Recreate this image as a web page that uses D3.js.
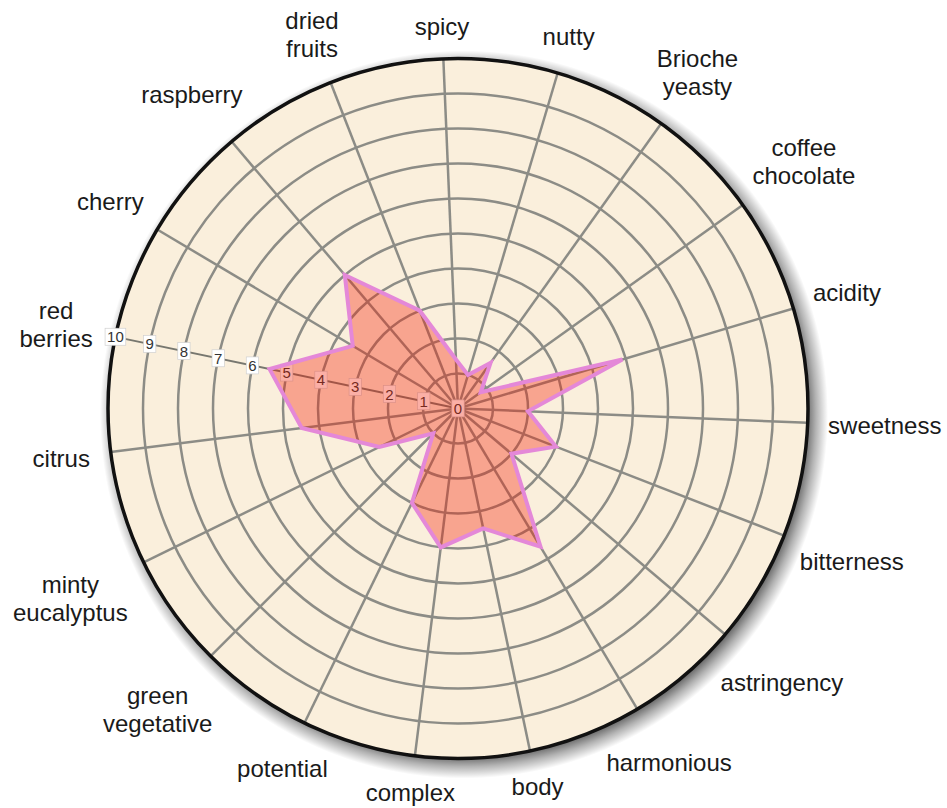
<!DOCTYPE html>
<html lang="en">
	<head>
		<meta charset="utf-8">
		<title>D3: Flavour radar</title>
		<script type="text/javascript" src="https://cdn.jsdelivr.net/npm/d3@7"></script>
		<style type="text/css">
			body { margin: 0; background: #fff; }
			text { font-family: "Liberation Sans", Arial, sans-serif; }
		</style>
	</head>
	<body>
		<script type="text/javascript">

			//Width and height
			var w = 947;
			var h = 808;
			var cx = 458;
			var cy = 408.5;
			var radius = 350;

			//Categories, clockwise from the top ("\n" splits a label on two lines)
			var categories = ["spicy", "nutty", "Brioche\nyeasty", "coffee\nchocolate", "acidity",
							  "sweetness", "bitterness", "astringency", "harmonious", "body",
							  "complex", "potential", "green\nvegetative", "minty\neucalyptus", "citrus",
							  "red\nberries", "cherry", "raspberry", "dried\nfruits"];

			//Score for each category
			var values = [1.4, 1, 1.6, 0.8, 4.9,
						  2, 3, 2, 4.6, 3.5,
						  4, 3, 1, 2.5, 4.5,
						  5.5, 3.5, 5, 3];

			//Ring labels, drawn along the "red berries" spoke
			var ringTicks = [0, 1, 2, 3, 4, 5, 6, 7, 8, 9, 10];
			var tickAxis = "red\nberries";

			var n = categories.length;
			var startAngle = -2.4 * Math.PI / 180;		//the chart is turned slightly anticlockwise

			var rScale = d3.scaleLinear()
							.domain([0, 10])
							.range([0, radius]);

			var aScale = d3.scaleLinear()
							.domain([0, n])
							.range([startAngle, startAngle + 2 * Math.PI]);

			var angleOf = function(d) {
				return aScale(categories.indexOf(d));
			};

			//Create SVG element
			var svg = d3.select("body")
						.append("svg")
						.attr("width", w)
						.attr("height", h);

			//Soft shadow made with a radial gradient (fades out at the rim)
			var shadowR = radius + 14;
			var grad = svg.append("defs")
						.append("radialGradient")
						.attr("id", "shadowGrad");
			grad.append("stop").attr("offset", (radius - 8) / shadowR).attr("stop-color", "#000").attr("stop-opacity", 0.6);
			grad.append("stop").attr("offset", (radius + 2) / shadowR).attr("stop-color", "#000").attr("stop-opacity", 0.3);
			grad.append("stop").attr("offset", 1).attr("stop-color", "#000").attr("stop-opacity", 0);

			var g = svg.append("g")
						.attr("transform", "translate(" + cx + "," + cy + ")");

			g.append("circle")
				.attr("cx", 6)
				.attr("cy", 6)
				.attr("r", shadowR)
				.attr("fill", "url(#shadowGrad)");

			//Plot background
			g.append("circle")
				.attr("r", rScale(10))
				.attr("fill", "#faefdc");

			//Rings
			g.selectAll("circle.ring")
				.data(ringTicks.filter(function(d) { return d > 0 && d < 10; }))
				.enter()
				.append("circle")
				.attr("class", "ring")
				.attr("r", function(d) { return rScale(d); })
				.attr("fill", "none")
				.attr("stroke", "#8c8c86")
				.attr("stroke-width", 2.5);

			//Spokes
			g.selectAll("line.spoke")
				.data(categories)
				.enter()
				.append("line")
				.attr("class", "spoke")
				.attr("x1", 0)
				.attr("y1", 0)
				.attr("x2", function(d) { return rScale(10) * Math.sin(angleOf(d)); })
				.attr("y2", function(d) { return -rScale(10) * Math.cos(angleOf(d)); })
				.attr("stroke", function(d) { return d == tickAxis ? "#77776f" : "#8c8c86"; })
				.attr("stroke-width", function(d) { return d == tickAxis ? 2 : 2.5; });

			//Outer border
			g.append("circle")
				.attr("r", rScale(10))
				.attr("fill", "none")
				.attr("stroke", "#111")
				.attr("stroke-width", 3.5);

			//Ring value labels
			var ta = angleOf(tickAxis);
			var tickG = g.selectAll("g.tick")
						.data(ringTicks)
						.enter()
						.append("g")
						.attr("class", "tick")
						.attr("transform", function(d) {
							return "translate(" + (rScale(d) * Math.sin(ta)) + "," + (-rScale(d) * Math.cos(ta)) + ")";
						});

			tickG.append("rect")
				.attr("fill", "#fff")
				.attr("stroke", "#d0d0d0")
				.attr("stroke-width", 0.7);

			tickG.append("text")
				.text(function(d) { return d; })
				.attr("text-anchor", "middle")
				.attr("dy", "0.36em")
				.attr("font-size", "15px")
				.attr("fill", "#333");

			tickG.each(function() {
				var bb = d3.select(this).select("text").node().getBBox();
				d3.select(this).select("rect")
					.attr("x", bb.x - 2)
					.attr("y", bb.y)
					.attr("width", bb.width + 4)
					.attr("height", bb.height);
			});

			//Series area
			var radial = d3.lineRadial()
							.angle(function(d, i) { return aScale(i); })
							.radius(function(d) { return rScale(d); })
							.curve(d3.curveLinearClosed);

			g.append("path")
				.datum(values)
				.attr("d", radial)
				.attr("fill", "#f41a00")
				.attr("fill-opacity", 0.35)
				.attr("stroke", "none");

			g.append("path")
				.datum(values)
				.attr("d", radial)
				.attr("fill", "none")
				.attr("stroke", "#e488d8")
				.attr("stroke-width", 4)
				.attr("stroke-linejoin", "miter");

			//Category labels, centred on each spoke just outside the circle
			var labels = g.selectAll("text.cat")
						.data(categories)
						.enter()
						.append("text")
						.attr("class", "cat")
						.attr("text-anchor", "middle")
						.attr("font-size", "24px")
						.attr("fill", "#1a1a1a");

			labels.each(function(d) {
				var t = d3.select(this);
				d.split("\n").forEach(function(line, i) {
					t.append("tspan")
						.attr("x", 0)
						.attr("y", i * 28)
						.text(line);
				});
				var bb = this.getBBox();
				var a = angleOf(d);
				var lines = d.split("\n").length;
				var bw = bb.width;
				var bh = lines * 23;
				var dist = rScale(10) + 20 + bw / 2 * Math.abs(Math.sin(a)) + bh / 2 * Math.abs(Math.cos(a));
				var px = dist * Math.sin(a);
				var py = -dist * Math.cos(a);
				var ox = px - (bb.x + bb.width / 2);
				var oy = py - (bb.y + bb.height / 2);
				t.attr("transform", "translate(" + ox + "," + oy + ")");
			});

		</script>
	</body>
</html>
